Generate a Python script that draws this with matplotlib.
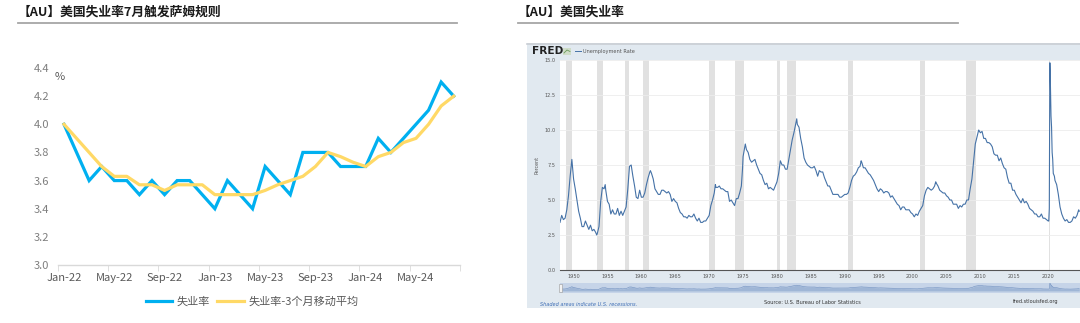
import matplotlib
matplotlib.use("Agg")
import matplotlib.pyplot as plt
import pandas as pd
from matplotlib.patches import Rectangle
from matplotlib.lines import Line2D

plt.rcParams['font.family'] = ['Noto Sans CJK SC', 'DejaVu Sans']

# ---------------- left chart data ----------------
months = ['Jan-22', 'Feb-22', 'Mar-22', 'Apr-22', 'May-22', 'Jun-22', 'Jul-22', 'Aug-22',
          'Sep-22', 'Oct-22', 'Nov-22', 'Dec-22', 'Jan-23', 'Feb-23', 'Mar-23', 'Apr-23',
          'May-23', 'Jun-23', 'Jul-23', 'Aug-23', 'Sep-23', 'Oct-23', 'Nov-23', 'Dec-23',
          'Jan-24', 'Feb-24', 'Mar-24', 'Apr-24', 'May-24', 'Jun-24', 'Jul-24', 'Aug-24']
unrate = [4.0, 3.8, 3.6, 3.7, 3.6, 3.6, 3.5, 3.6, 3.5, 3.6, 3.6, 3.5, 3.4, 3.6, 3.5, 3.4,
          3.7, 3.6, 3.5, 3.8, 3.8, 3.8, 3.7, 3.7, 3.7, 3.9, 3.8, 3.9, 4.0, 4.1, 4.3, 4.2]
unrate_ma3 = [4.0, 3.9, 3.8, 3.7, 3.63, 3.63, 3.57, 3.57, 3.53, 3.57, 3.57, 3.57, 3.5, 3.5,
              3.5, 3.5, 3.53, 3.57, 3.6, 3.63, 3.7, 3.8, 3.77, 3.73, 3.7, 3.77, 3.8, 3.87,
              3.9, 4.0, 4.13, 4.2]
x_tick_labels = ['Jan-22', 'May-22', 'Sep-22', 'Jan-23', 'May-23', 'Sep-23', 'Jan-24', 'May-24']
y_ticks = [3.0, 3.2, 3.4, 3.6, 3.8, 4.0, 4.2, 4.4]
series_names = ['失业率', '失业率-3个月移动平均']

# ---------------- right (FRED) chart data ----------------
fred_dates = [
    '1948-01', '1948-04', '1948-07', '1948-10',
    '1949-01', '1949-04', '1949-07', '1949-10',
    '1950-01', '1950-04', '1950-07', '1950-10',
    '1951-01', '1951-04', '1951-07', '1951-10',
    '1952-01', '1952-04', '1952-07', '1952-10',
    '1953-01', '1953-04', '1953-06', '1953-07', '1953-10',
    '1954-01', '1954-04', '1954-07', '1954-09', '1954-10',
    '1955-01', '1955-04', '1955-07', '1955-10',
    '1956-01', '1956-04', '1956-07', '1956-10',
    '1957-01', '1957-04', '1957-07', '1957-10',
    '1958-01', '1958-04', '1958-07', '1958-10',
    '1959-01', '1959-04', '1959-07', '1959-10',
    '1960-01', '1960-04', '1960-07', '1960-10',
    '1961-01', '1961-04', '1961-05', '1961-07', '1961-10',
    '1962-01', '1962-04', '1962-07', '1962-10',
    '1963-01', '1963-04', '1963-07', '1963-10',
    '1964-01', '1964-04', '1964-07', '1964-10',
    '1965-01', '1965-04', '1965-07', '1965-10',
    '1966-01', '1966-04', '1966-07', '1966-10',
    '1967-01', '1967-04', '1967-07', '1967-10',
    '1968-01', '1968-04', '1968-07', '1968-10',
    '1969-01', '1969-04', '1969-07', '1969-10',
    '1970-01', '1970-04', '1970-07', '1970-10', '1970-12',
    '1971-01', '1971-04', '1971-07', '1971-10',
    '1972-01', '1972-04', '1972-07', '1972-10',
    '1973-01', '1973-04', '1973-07', '1973-10',
    '1974-01', '1974-04', '1974-07', '1974-10', '1974-12',
    '1975-01', '1975-05', '1975-07', '1975-10',
    '1976-01', '1976-04', '1976-07', '1976-10',
    '1977-01', '1977-04', '1977-07', '1977-10',
    '1978-01', '1978-04', '1978-07', '1978-10',
    '1979-01', '1979-04', '1979-07', '1979-10',
    '1980-01', '1980-04', '1980-07', '1980-10',
    '1981-01', '1981-04', '1981-07', '1981-10',
    '1982-01', '1982-04', '1982-07', '1982-10', '1982-12',
    '1983-01', '1983-04', '1983-07', '1983-10',
    '1984-01', '1984-04', '1984-07', '1984-10',
    '1985-01', '1985-04', '1985-07', '1985-10',
    '1986-01', '1986-04', '1986-07', '1986-10',
    '1987-01', '1987-04', '1987-07', '1987-10',
    '1988-01', '1988-04', '1988-07', '1988-10',
    '1989-01', '1989-04', '1989-07', '1989-10',
    '1990-01', '1990-04', '1990-07', '1990-10',
    '1991-01', '1991-04', '1991-07', '1991-10',
    '1992-01', '1992-04', '1992-06', '1992-07', '1992-10',
    '1993-01', '1993-04', '1993-07', '1993-10',
    '1994-01', '1994-04', '1994-07', '1994-10',
    '1995-01', '1995-04', '1995-07', '1995-10',
    '1996-01', '1996-04', '1996-07', '1996-10',
    '1997-01', '1997-04', '1997-07', '1997-10',
    '1998-01', '1998-04', '1998-07', '1998-10',
    '1999-01', '1999-04', '1999-07', '1999-10',
    '2000-01', '2000-04', '2000-07', '2000-10',
    '2001-01', '2001-04', '2001-07', '2001-10',
    '2002-01', '2002-04', '2002-07', '2002-10',
    '2003-01', '2003-04', '2003-06', '2003-07', '2003-10',
    '2004-01', '2004-04', '2004-07', '2004-10',
    '2005-01', '2005-04', '2005-07', '2005-10',
    '2006-01', '2006-04', '2006-07', '2006-10',
    '2007-01', '2007-04', '2007-07', '2007-10',
    '2008-01', '2008-04', '2008-07', '2008-10',
    '2009-01', '2009-04', '2009-07', '2009-10',
    '2010-01', '2010-04', '2010-07', '2010-10',
    '2011-01', '2011-04', '2011-07', '2011-10',
    '2012-01', '2012-04', '2012-07', '2012-10',
    '2013-01', '2013-04', '2013-07', '2013-10',
    '2014-01', '2014-04', '2014-07', '2014-10',
    '2015-01', '2015-04', '2015-07', '2015-10',
    '2016-01', '2016-04', '2016-07', '2016-10',
    '2017-01', '2017-04', '2017-07', '2017-10',
    '2018-01', '2018-04', '2018-07', '2018-10',
    '2019-01', '2019-04', '2019-07', '2019-10',
    '2020-01', '2020-02', '2020-03', '2020-04', '2020-05', '2020-06', '2020-07',
    '2020-08', '2020-09', '2020-10', '2020-12',
    '2021-01', '2021-04', '2021-07', '2021-10',
    '2022-01', '2022-04', '2022-07', '2022-10',
    '2023-01', '2023-04', '2023-07', '2023-10',
    '2024-01', '2024-04', '2024-07', '2024-08',
]
fred_rate = [
    3.4, 3.9, 3.6, 3.7,
    4.3, 5.3, 6.7, 7.9,
    6.5, 5.8, 5.0, 4.2,
    3.7, 3.1, 3.1, 3.5,
    3.2, 2.9, 3.2, 2.8,
    2.9, 2.7, 2.5, 2.6, 3.1,
    4.9, 5.9, 5.8, 6.1, 5.7,
    4.9, 4.7, 4.0, 4.3,
    4.0, 4.0, 4.4, 3.9,
    4.2, 3.9, 4.2, 4.5,
    5.8, 7.4, 7.5, 6.7,
    6.0, 5.2, 5.1, 5.7,
    5.2, 5.2, 5.5, 6.1,
    6.6, 7.0, 7.1, 6.9, 6.5,
    5.8, 5.6, 5.4, 5.4,
    5.7, 5.7, 5.6, 5.5,
    5.6, 5.4, 4.9, 5.1,
    4.9, 4.8, 4.4, 4.1,
    4.0, 3.8, 3.8, 3.7,
    3.9, 3.8, 3.8, 4.0,
    3.7, 3.5, 3.7, 3.4,
    3.4, 3.5, 3.5, 3.7,
    3.9, 4.6, 5.0, 5.5, 6.1,
    5.9, 5.9, 6.0, 5.8,
    5.8, 5.7, 5.6, 5.6,
    4.9, 5.0, 4.8, 4.6,
    5.1, 5.1, 5.5, 6.0, 7.2,
    8.1, 9.0, 8.6, 8.4,
    7.9, 7.7, 7.8, 7.9,
    7.5, 7.2, 6.9, 6.8,
    6.4, 6.1, 6.2, 5.8,
    5.9, 5.8, 5.7, 6.0,
    6.3, 6.9, 7.8, 7.5,
    7.5, 7.2, 7.2, 7.9,
    8.6, 9.3, 9.8, 10.4, 10.8,
    10.4, 10.2, 9.4, 8.8,
    8.0, 7.7, 7.5, 7.4,
    7.3, 7.3, 7.4, 7.1,
    6.7, 7.1, 7.0, 7.0,
    6.6, 6.3, 6.0, 6.0,
    5.7, 5.4, 5.4, 5.4,
    5.4, 5.2, 5.2, 5.3,
    5.4, 5.4, 5.5, 5.9,
    6.4, 6.7, 6.8, 7.0,
    7.3, 7.4, 7.8, 7.7, 7.3,
    7.3, 7.1, 6.9, 6.8,
    6.6, 6.4, 6.1, 5.8,
    5.6, 5.8, 5.7, 5.5,
    5.6, 5.6, 5.5, 5.2,
    5.3, 5.1, 4.9, 4.7,
    4.6, 4.3, 4.5, 4.5,
    4.3, 4.3, 4.3, 4.1,
    4.0, 3.8, 4.0, 3.9,
    4.2, 4.4, 4.6, 5.3,
    5.7, 5.9, 5.8, 5.7,
    5.8, 6.0, 6.3, 6.2, 6.0,
    5.7, 5.6, 5.5, 5.5,
    5.3, 5.2, 5.0, 5.0,
    4.7, 4.7, 4.7, 4.4,
    4.6, 4.5, 4.7, 4.7,
    5.0, 5.0, 5.8, 6.5,
    7.8, 9.0, 9.5, 10.0,
    9.8, 9.9, 9.4, 9.4,
    9.1, 9.1, 9.0, 8.8,
    8.3, 8.2, 8.2, 7.8,
    8.0, 7.6, 7.3, 7.2,
    6.6, 6.2, 6.2, 5.7,
    5.7, 5.4, 5.2, 5.0,
    4.8, 5.1, 4.8, 4.9,
    4.7, 4.4, 4.3, 4.2,
    4.0, 4.0, 3.8, 3.8,
    4.0, 3.7, 3.7, 3.6,
    3.5, 3.5, 4.4, 14.8, 13.2, 11.0, 10.2,
    8.4, 7.9, 6.9, 6.7,
    6.4, 6.1, 5.4, 4.5,
    4.0, 3.7, 3.5, 3.6,
    3.4, 3.4, 3.5, 3.8,
    3.7, 3.9, 4.3, 4.2,
]
recession_start = ['1948-11', '1953-07', '1957-08', '1960-04', '1969-12', '1973-11',
                   '1980-01', '1981-07', '1990-07', '2001-03', '2007-12', '2020-02']
recession_end = ['1949-10', '1954-05', '1958-04', '1961-02', '1970-11', '1975-03',
                 '1980-07', '1982-11', '1991-03', '2001-11', '2009-06', '2020-04']
fred_yticks = [0.0, 2.5, 5.0, 7.5, 10.0, 12.5, 15.0]
fred_xyears = [1950, 1955, 1960, 1965, 1970, 1975, 1980, 1985, 1990, 1995, 2000, 2005,
               2010, 2015, 2020]

W, H = 1080, 323
fig = plt.figure(figsize=(W / 100, H / 100), dpi=100)


def fx(px):
    return px / W


def fy(py):  # py measured from top
    return 1 - py / H


# ---------------- titles ----------------
fig.text(fx(18), fy(12), '【AU】美国失业率7月触发萨姆规则', fontsize=9.2, fontweight='bold',
         color='#1a1a1a', va='center', ha='left')
fig.add_artist(Line2D([fx(18), fx(457)], [fy(23), fy(23)], color='#a6a6a6', lw=1.3))
fig.text(fx(518), fy(12), '【AU】美国失业率', fontsize=9.2, fontweight='bold',
         color='#1a1a1a', va='center', ha='left')
fig.add_artist(Line2D([fx(518), fx(958)], [fy(23), fy(23)], color='#a6a6a6', lw=1.3))

# ---------------- left chart ----------------
ax = fig.add_axes([fx(57.7), fy(265), fx(460 - 57.7), (265 - 68) / H])
xs = list(range(len(months)))
l1, = ax.plot(xs, unrate, color='#00b0f0', lw=2.3, solid_joinstyle='miter')
l2, = ax.plot(xs, unrate_ma3, color='#ffd966', lw=2.3)
ax.set_xlim(-0.5, len(months) - 0.5)
ax.set_ylim(3.0, 4.4)
ax.set_yticks(y_ticks)
ax.set_yticklabels([f'{v:.1f}' for v in y_ticks])
tick_pos = [months.index(m) for m in x_tick_labels]
ax.set_xticks(tick_pos)
ax.set_xticklabels(x_tick_labels)
ax.set_xticks([p - 0.5 for p in range(0, len(months) + 1, 4)], minor=True)
ax.tick_params(axis='x', which='major', length=0, pad=6, labelsize=8, labelcolor='#595959')
ax.tick_params(axis='x', which='minor', length=4, color='#d9d9d9', direction='out')
ax.tick_params(axis='y', length=0, pad=6, labelsize=8, labelcolor='#7f7f7f')
for s in ['top', 'right', 'left']:
    ax.spines[s].set_visible(False)
ax.spines['bottom'].set_color('#d9d9d9')
ax.spines['bottom'].set_linewidth(1.0)
ax.set_facecolor('none')
fig.text(fx(60), fy(77), '%', fontsize=8, color='#595959', ha='center', va='center')
fig.legend([l1, l2], series_names, loc='center', bbox_to_anchor=(fx(252), fy(302)),
           ncol=2, frameon=False, fontsize=8, handlelength=2.4, columnspacing=0.6,
           handletextpad=0.4, labelcolor='#595959')

# ---------------- right chart (FRED) ----------------
frame = Rectangle((fx(527), fy(308)), fx(1080 - 527), (308 - 43) / H,
                  transform=fig.transFigure, facecolor='#e1e9f0', edgecolor='none', zorder=0)
fig.add_artist(frame)
fig.add_artist(Line2D([fx(527), 1.0], [fy(43.5), fy(43.5)], color='#c9ced4', lw=1.2))
fig.text(fx(532), fy(51), 'FRED', fontsize=7.6, fontweight='bold', family='DejaVu Sans',
         color='#222222', va='center', ha='left')
fig.add_artist(Rectangle((fx(563), fy(55)), fx(8), 7 / H, transform=fig.transFigure,
                         facecolor='#cfdcc8', edgecolor='none'))
fig.add_artist(Line2D([fx(564), fx(567), fx(570)], [fy(53), fy(50), fy(51.5)],
                      color='#6a9a5a', lw=0.6))
fig.add_artist(Line2D([fx(575), fx(581)], [fy(51), fy(51)], color='#4572a7', lw=0.7))
fig.text(fx(583), fy(51), 'Unemployment Rate', fontsize=3.6, family='DejaVu Sans',
         color='#555555', va='center', ha='left')

dates = pd.to_datetime(fred_dates)
fax = fig.add_axes([fx(560), fy(270), fx(520), (270 - 60) / H])
fax.set_facecolor('white')
for s0, s1 in zip(recession_start, recession_end):
    fax.axvspan(pd.Timestamp(s0), pd.Timestamp(s1), color='#e1e1e1', lw=0, zorder=1)
fax.plot(dates, fred_rate, color='#4572a7', lw=0.8, zorder=3)
fax.set_xlim(pd.Timestamp('1948-01-01'), pd.Timestamp('2024-09-10'))
fax.set_ylim(0, 15)
fax.set_yticks(fred_yticks)
fax.set_yticklabels([f'{v:.1f}' for v in fred_yticks])
fax.set_xticks([pd.Timestamp(f'{y}-01-01') for y in fred_xyears])
fax.set_xticklabels([str(y) for y in fred_xyears])
fax.grid(axis='y', color='#ececec', lw=0.6, zorder=0)
fax.tick_params(axis='both', length=0, labelsize=3.6, labelcolor='#555555', pad=3)
for lab in fax.get_xticklabels() + fax.get_yticklabels():
    lab.set_family('DejaVu Sans')
for s in ['top', 'right', 'left']:
    fax.spines[s].set_visible(False)
fax.spines['bottom'].set_color('#555555')
fax.spines['bottom'].set_linewidth(0.8)
fig.text(fx(537), fy(165), 'Percent', fontsize=3.4, rotation=90, family='DejaVu Sans',
         color='#555555', ha='center', va='center')

# navigator
nav = fig.add_axes([fx(560), fy(293), fx(520), 10 / H])
nav.set_facecolor('#c6d4e8')
nav.fill_between(dates, 0, fred_rate, color='#9fb6d6', lw=0)
nav.plot(dates, fred_rate, color='#6f8fbf', lw=0.4)
nav.set_xlim(pd.Timestamp('1948-01-01'), pd.Timestamp('2024-09-10'))
nav.set_ylim(-4, 15)
nav.set_xticks([])
nav.set_yticks([])
for s in nav.spines.values():
    s.set_visible(False)
fig.add_artist(Rectangle((fx(559), fy(292)), fx(3), 8 / H, transform=fig.transFigure,
                         facecolor='#f2f2f2', edgecolor='#999999', lw=0.4))

fig.text(fx(540), fy(305), 'Shaded areas indicate U.S. recessions.', fontsize=3.6,
         style='italic', family='DejaVu Sans', color='#3d6db5', ha='left', va='center')
fig.text(fx(812), fy(302), 'Source: U.S. Bureau of Labor Statistics', fontsize=3.6,
         family='DejaVu Sans', color='#333333', ha='center', va='center')
fig.text(fx(1036), fy(302), 'fred.stlouisfed.org', fontsize=3.6,
         family='DejaVu Sans', color='#333333', ha='center', va='center')

fig.savefig('out.png', dpi=100)
